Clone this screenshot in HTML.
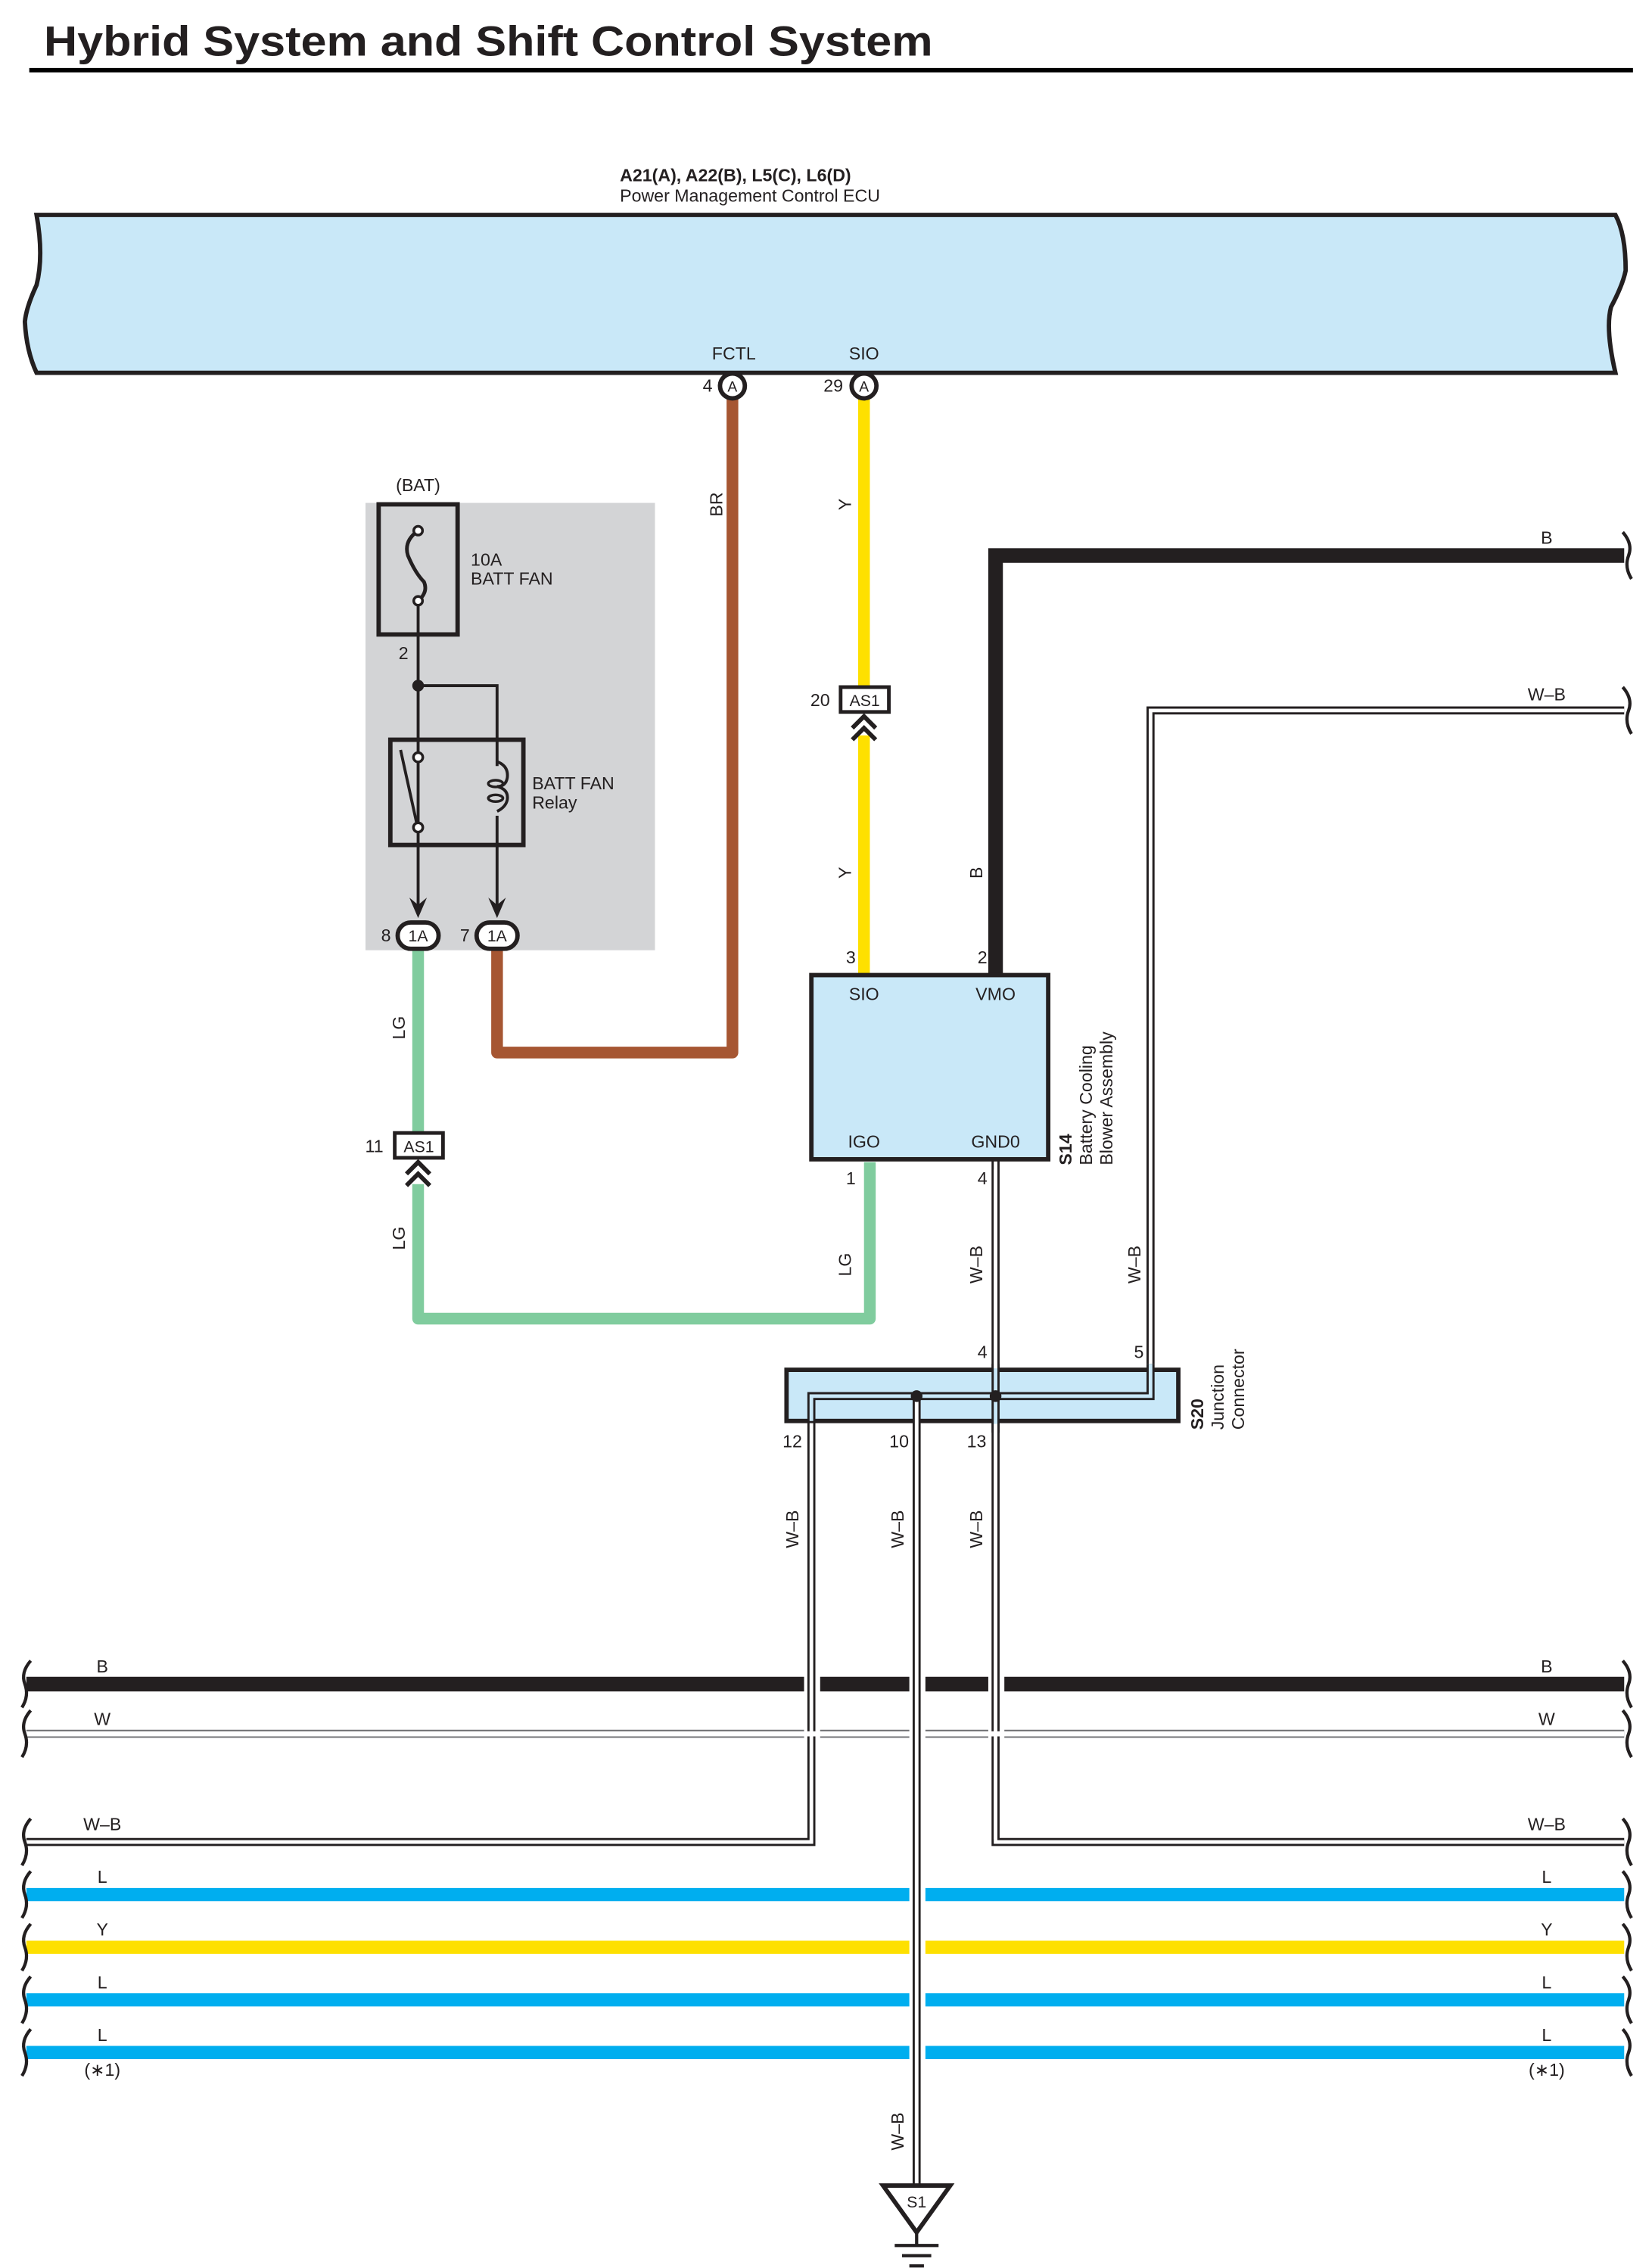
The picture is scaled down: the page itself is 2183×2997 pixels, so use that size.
<!DOCTYPE html>
<html><head><meta charset="utf-8"><style>
html,body{margin:0;padding:0;background:#fff}
svg{display:block}
text{font-family:"Liberation Sans",sans-serif;fill:#231f20}
</style></head><body>
<svg width="2183" height="2997" viewBox="0 0 1130 1551.4" xmlns="http://www.w3.org/2000/svg">
<rect width="1130" height="1552" fill="#fff"/>
<text x="30" y="38" font-size="29" font-weight="bold" textLength="608" lengthAdjust="spacingAndGlyphs">Hybrid System and Shift Control System</text>
<line x1="20" y1="48" x2="1117" y2="48" stroke="#000" stroke-width="3"/>

<text x="424" y="124" font-size="12" font-weight="bold">A21(A), A22(B), L5(C), L6(D)</text>
<text x="424" y="138" font-size="12">Power Management Control ECU</text>
<path d="M25 147 L1105 147 Q1112 160 1112 185 Q1110 195 1102 210 Q1098 225 1105 255 L25 255 Q18 240 17 220 Q18 210 25 195 Q30 175 25 147 Z" fill="#c9e8f8" stroke="#231f20" stroke-width="3"/>
<text x="502" y="246" font-size="12" text-anchor="middle">FCTL</text>
<text x="591" y="246" font-size="12" text-anchor="middle">SIO</text>

<!-- gray relay block -->
<rect x="250" y="344" width="198" height="306" fill="#d3d4d6"/>
<text x="286" y="336" font-size="12" text-anchor="middle">(BAT)</text>
<rect x="259" y="345" width="54" height="89" fill="none" stroke="#231f20" stroke-width="3"/>
<path d="M286 363 Q276 370 279 380 Q284 392 290 398 Q293 405 286 411" fill="none" stroke="#231f20" stroke-width="2.5"/>
<circle cx="286" cy="363" r="3" fill="#fff" stroke="#231f20" stroke-width="1.8"/>
<circle cx="286" cy="411" r="3" fill="#fff" stroke="#231f20" stroke-width="1.8"/>
<text x="322" y="387" font-size="12">10A</text>
<text x="322" y="400" font-size="12">BATT FAN</text>
<text x="276" y="451" font-size="12" text-anchor="middle">2</text>
<path d="M286 414 L286 625 M286 469 L340 469 L340 625" fill="none" stroke="#231f20" stroke-width="2"/>
<circle cx="286" cy="469" r="4" fill="#231f20"/>
<rect x="267" y="506" width="91" height="72" fill="none" stroke="#231f20" stroke-width="3"/>
<line x1="274" y1="513" x2="285" y2="563" stroke="#231f20" stroke-width="2"/>
<circle cx="286" cy="518" r="3.2" fill="#fff" stroke="#231f20" stroke-width="1.8"/>
<circle cx="286" cy="566" r="3.2" fill="#fff" stroke="#231f20" stroke-width="1.8"/>
<rect x="337" y="524" width="10" height="34" fill="#d3d4d6"/>
<path d="M340 521 Q348 524 347 532 Q346 538 340 538 Q348 540 347 547 Q346 552 340 555" fill="none" stroke="#231f20" stroke-width="2"/>
<ellipse cx="339" cy="536" rx="5" ry="2.3" fill="none" stroke="#231f20" stroke-width="1.8"/>
<ellipse cx="339" cy="546" rx="5" ry="2.3" fill="none" stroke="#231f20" stroke-width="1.8"/>
<text x="364" y="540" font-size="12">BATT FAN</text>
<text x="364" y="553" font-size="12">Relay</text>
<path d="M280 614 L286 628 L292 614 L286 619 Z M334 614 L340 628 L346 614 L340 619 Z" fill="#231f20"/>
<!-- BR wire -->
<path d="M501 272 L501 720 L340 720 L340 648" fill="none" stroke="#a65632" stroke-width="8" stroke-linejoin="round"/>
<text transform="translate(494,345) rotate(-90)" font-size="12" text-anchor="middle">BR</text>
<!-- LG wire -->
<path d="M286 648 L286 775 M286 810 L286 902 L595 902 L595 795" fill="none" stroke="#80cc9e" stroke-width="8" stroke-linejoin="round"/>
<text transform="translate(277,703) rotate(-90)" font-size="12" text-anchor="middle">LG</text>
<text transform="translate(277,847) rotate(-90)" font-size="12" text-anchor="middle">LG</text>
<text transform="translate(582,865) rotate(-90)" font-size="12" text-anchor="middle">LG</text>
<!-- 1A connectors -->
<rect x="272" y="631" width="28" height="18" rx="9" fill="#fff" stroke="#231f20" stroke-width="3"/>
<text x="286" y="644" font-size="11" text-anchor="middle">1A</text>
<rect x="326" y="631" width="28" height="18" rx="9" fill="#fff" stroke="#231f20" stroke-width="3"/>
<text x="340" y="644" font-size="11" text-anchor="middle">1A</text>
<text x="264" y="644" font-size="12" text-anchor="middle">8</text>
<text x="318" y="644" font-size="12" text-anchor="middle">7</text>
<!-- AS1 11 -->
<rect x="270" y="775" width="33" height="17" fill="#fff" stroke="#231f20" stroke-width="2.5"/>
<text x="286.5" y="788" font-size="11" text-anchor="middle">AS1</text>
<text x="256" y="788" font-size="12" text-anchor="middle">11</text>
<path d="M278 803 L286 795 L294 803 M278 811 L286 803 L294 811" fill="none" stroke="#231f20" stroke-width="3"/>

<!-- Y wire -->
<path d="M591 272 L591 470 M591 503 L591 667" fill="none" stroke="#fee000" stroke-width="8"/>
<text transform="translate(582,345) rotate(-90)" font-size="12" text-anchor="middle">Y</text>
<text transform="translate(582,597) rotate(-90)" font-size="12" text-anchor="middle">Y</text>
<rect x="575" y="470" width="33" height="17" fill="#fff" stroke="#231f20" stroke-width="2.5"/>
<text x="591.5" y="483" font-size="11" text-anchor="middle">AS1</text>
<text x="561" y="483" font-size="12" text-anchor="middle">20</text>
<path d="M583 498 L591 490 L599 498 M583 506 L591 498 L599 506" fill="none" stroke="#231f20" stroke-width="3"/>

<!-- ECU connectors -->
<circle cx="501" cy="264" r="8.5" fill="#fff" stroke="#231f20" stroke-width="3"/>
<text x="501" y="268" font-size="10" text-anchor="middle">A</text>
<text x="484" y="268" font-size="12" text-anchor="middle">4</text>
<circle cx="591" cy="264" r="8.5" fill="#fff" stroke="#231f20" stroke-width="3"/>
<text x="591" y="268" font-size="10" text-anchor="middle">A</text>
<text x="570" y="268" font-size="12" text-anchor="middle">29</text>

<!-- B wire -->
<path d="M681 667 L681 380 L1111 380" fill="none" stroke="#231f20" stroke-width="10"/>
<text x="1058" y="372" font-size="12" text-anchor="middle">B</text>
<text transform="translate(672,597) rotate(-90)" font-size="12" text-anchor="middle">B</text>

<!-- double-line W-B wires -->
<g fill="none" stroke-linejoin="miter">
<path d="M787 933 L787 486 L1111 486" stroke="#231f20" stroke-width="5.5"/>
<path d="M787 933 L787 486 L1111 486" stroke="#fff" stroke-width="2.5"/>
<path d="M681 793 L681 1260 L1111 1260" stroke="#231f20" stroke-width="5.5"/>
<path d="M681 793 L681 1260 L1111 1260" stroke="#fff" stroke-width="2.5"/>
<path d="M555 972 L555 1260 L18 1260" stroke="#231f20" stroke-width="5.5"/>
<path d="M555 972 L555 1260 L18 1260" stroke="#fff" stroke-width="2.5"/>
</g>
<text x="1058" y="479" font-size="12" text-anchor="middle">W–B</text>
<text transform="translate(780,865) rotate(-90)" font-size="12" text-anchor="middle">W–B</text>
<text transform="translate(672,865) rotate(-90)" font-size="12" text-anchor="middle">W–B</text>
<text transform="translate(546,1046) rotate(-90)" font-size="12" text-anchor="middle">W–B</text>
<text transform="translate(618,1046) rotate(-90)" font-size="12" text-anchor="middle">W–B</text>
<text transform="translate(672,1046) rotate(-90)" font-size="12" text-anchor="middle">W–B</text>
<text transform="translate(618,1458) rotate(-90)" font-size="12" text-anchor="middle">W–B</text>

<!-- S14 -->
<rect x="555" y="667" width="162" height="126" fill="#c9e8f8" stroke="#231f20" stroke-width="3"/>
<text x="591" y="684" font-size="12" text-anchor="middle">SIO</text>
<text x="681" y="684" font-size="12" text-anchor="middle">VMO</text>
<text x="591" y="785" font-size="12" text-anchor="middle">IGO</text>
<text x="681" y="785" font-size="12" text-anchor="middle">GND0</text>
<text x="582" y="659" font-size="12" text-anchor="middle">3</text>
<text x="672" y="659" font-size="12" text-anchor="middle">2</text>
<text x="582" y="810" font-size="12" text-anchor="middle">1</text>
<text x="672" y="810" font-size="12" text-anchor="middle">4</text>
<text transform="translate(733,797) rotate(-90)" font-size="12" font-weight="bold">S14</text>
<text transform="translate(747,797) rotate(-90)" font-size="12">Battery Cooling</text>
<text transform="translate(761,797) rotate(-90)" font-size="12">Blower Assembly</text>

<!-- Horizontal bus wires -->
<g stroke-width="9" fill="none">
<path d="M18 1152 L550 1152 M561 1152 L622 1152 M633 1152 L676 1152 M687 1152 L1111 1152" stroke="#231f20" stroke-width="10"/>
<path d="M18 1296 L622 1296 M633 1296 L1111 1296" stroke="#00aeef"/>
<path d="M18 1332 L622 1332 M633 1332 L1111 1332" stroke="#fee000"/>
<path d="M18 1368 L622 1368 M633 1368 L1111 1368" stroke="#00aeef"/>
<path d="M18 1404 L622 1404 M633 1404 L1111 1404" stroke="#00aeef"/>
<path d="M18 1186 L550 1186 M561 1186 L622 1186 M633 1186 L676 1186 M687 1186 L1111 1186" stroke="#6d6e71" stroke-width="5.5"/>
<path d="M18 1186 L1111 1186" stroke="#fff" stroke-width="3.5"/>
</g>
<!-- S20 -->
<rect x="538" y="937" width="268" height="35" fill="#c9e8f8" stroke="#231f20" stroke-width="3"/>
<g fill="none">
<path d="M555 972 L555 955 L787 955 L787 933" stroke="#231f20" stroke-width="5.5"/>
<path d="M555 972 L555 955 L787 955 L787 933" stroke="#c9e8f8" stroke-width="2.5"/>
<path d="M681 933 L681 980" stroke="#231f20" stroke-width="5.5"/>
<path d="M681 925 L681 985" stroke="#c9e8f8" stroke-width="2.5"/>
<path d="M627 955 L627 1495" stroke="#231f20" stroke-width="5.5"/>
<path d="M627 958 L627 1495" stroke="#fff" stroke-width="2.5"/>
<path d="M681 800 L681 936" stroke="#fff" stroke-width="2.5"/>
<path d="M681 974 L681 1258" stroke="#fff" stroke-width="2.5"/>
</g>
<circle cx="627" cy="955" r="4" fill="#231f20"/>
<circle cx="681" cy="955" r="4" fill="#231f20"/>
<text x="672" y="929" font-size="12" text-anchor="middle">4</text>
<text x="779" y="929" font-size="12" text-anchor="middle">5</text>
<text x="542" y="990" font-size="12" text-anchor="middle">12</text>
<text x="615" y="990" font-size="12" text-anchor="middle">10</text>
<text x="668" y="990" font-size="12" text-anchor="middle">13</text>
<text transform="translate(823,978) rotate(-90)" font-size="12" font-weight="bold">S20</text>
<text transform="translate(837,978) rotate(-90)" font-size="12">Junction</text>
<text transform="translate(851,978) rotate(-90)" font-size="12">Connector</text>

<!-- labels -->
<g font-size="12" text-anchor="middle">
<text x="70" y="1144">B</text><text x="1058" y="1144">B</text>
<text x="70" y="1180">W</text><text x="1058" y="1180">W</text>
<text x="70" y="1252">W–B</text><text x="1058" y="1252">W–B</text>
<text x="70" y="1288">L</text><text x="1058" y="1288">L</text>
<text x="70" y="1324">Y</text><text x="1058" y="1324">Y</text>
<text x="70" y="1360">L</text><text x="1058" y="1360">L</text>
<text x="70" y="1396">L</text><text x="1058" y="1396">L</text>
<text x="70" y="1420">(∗1)</text><text x="1058" y="1420">(∗1)</text>
</g>
<!-- brackets -->
<g fill="none" stroke="#231f20" stroke-width="2.2">
<path d="M21 1136 Q14 1144 17 1152 Q20 1160 15 1168"/><path d="M1110 1136 Q1117 1144 1114 1152 Q1111 1160 1116 1168"/>
<path d="M21 1170 Q14 1178 17 1186 Q20 1194 15 1202"/><path d="M1110 1170 Q1117 1178 1114 1186 Q1111 1194 1116 1202"/>
<path d="M21 1244 Q14 1252 17 1260 Q20 1268 15 1276"/><path d="M1110 1244 Q1117 1252 1114 1260 Q1111 1268 1116 1276"/>
<path d="M21 1280 Q14 1288 17 1296 Q20 1304 15 1312"/><path d="M1110 1280 Q1117 1288 1114 1296 Q1111 1304 1116 1312"/>
<path d="M21 1316 Q14 1324 17 1332 Q20 1340 15 1348"/><path d="M1110 1316 Q1117 1324 1114 1332 Q1111 1340 1116 1348"/>
<path d="M21 1352 Q14 1360 17 1368 Q20 1376 15 1384"/><path d="M1110 1352 Q1117 1360 1114 1368 Q1111 1376 1116 1384"/>
<path d="M21 1388 Q14 1396 17 1404 Q20 1412 15 1420"/><path d="M1110 1388 Q1117 1396 1114 1404 Q1111 1412 1116 1420"/>
<path d="M1110 364 Q1117 372 1114 380 Q1111 388 1116 396"/>
<path d="M1110 470 Q1117 478 1114 486 Q1111 494 1116 502"/>
</g>
<!-- ground -->
<path d="M604 1495 L650 1495 L627 1527 Z" fill="#fff" stroke="#231f20" stroke-width="3"/>
<text x="627" y="1510" font-size="11" text-anchor="middle">S1</text>
<path d="M627 1527 L627 1536 M612 1536 L642 1536 M617 1543 L637 1543 M622 1550 L632 1550" stroke="#231f20" stroke-width="2.2"/>
</svg>
</body></html>
